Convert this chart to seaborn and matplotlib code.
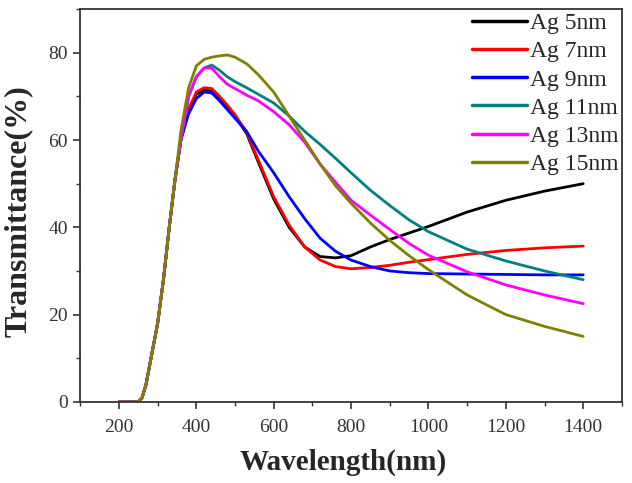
import numpy as np
import pandas as pd
import matplotlib
matplotlib.use("Agg")
import matplotlib.pyplot as plt
import seaborn as sns
from matplotlib.ticker import MultipleLocator

# ---- data ----
wavelength = [200, 250, 260, 270, 285, 300, 315, 330, 345, 360, 380, 400, 420, 440,
              460, 480, 500, 530, 560, 600, 640, 680, 720, 760, 800, 850, 900, 950,
              1000, 1100, 1200, 1300, 1400]
rise = [0, 0, 1, 4, 11, 18, 28, 40, 51, 60]

ag5 = rise + [67, 70.5, 71.5, 71.2, 69.5, 67.5, 65.5, 61.5, 55, 46.5, 40, 35.5, 33.3,
              33, 33.5, 35.5, 37.2, 38.7, 40.2, 43.5, 46.2, 48.3, 50]
ag7 = rise + [67, 71, 72, 71.8, 70, 68, 65.8, 61.8, 55.5, 47, 40.5, 35.5, 32.5,
              31, 30.5, 30.8, 31.3, 32, 32.6, 33.8, 34.7, 35.3, 35.7]
ag9 = rise + [66, 69.5, 71, 70.8, 69, 67, 65, 62, 57.5, 52.5, 47, 42, 37.5,
              34.5, 32.5, 31, 30, 29.6, 29.4, 29.3, 29.2, 29.1, 29.1]
ag11 = rise + [70, 74.5, 76.5, 77.2, 76, 74.5, 73.4, 72, 70.5, 68.5, 65.5, 62, 59,
               55.8, 52.5, 48.5, 45, 41.7, 39, 35, 32.3, 30, 28]
ag13 = rise[:-1] + [60, 70, 74.5, 76.5, 76.5, 74.5, 72.8, 71.8, 70.3, 69, 66.5, 63.5, 59.5, 54.5,
                    50.3, 46.2, 42.8, 39.5, 36.3, 33.6, 29.8, 26.8, 24.5, 22.5]
ag15 = rise[:-1] + [62, 72, 77, 78.5, 79, 79.3, 79.5, 79, 77.5, 75, 71, 65.5, 60, 54.5,
                    49.5, 45.5, 41, 37, 33.5, 30.3, 24.5, 20, 17.3, 15]

labels = ["Ag 5nm", "Ag 7nm", "Ag 9nm", "Ag 11nm", "Ag 13nm", "Ag 15nm"]
series = [ag5, ag7, ag9, ag11, ag13, ag15]
colors = ["#000000", "#FF0000", "#0000FF", "#008080", "#FF00FF", "#808000"]

x_ticks = [200, 400, 600, 800, 1000, 1200, 1400]
y_ticks = [0, 20, 40, 60, 80]

frames = []
for lab, vals in zip(labels, series):
    frames.append(pd.DataFrame({"Wavelength": wavelength, "T": vals, "Sample": lab}))
df = pd.concat(frames, ignore_index=True)

sns.set_style("ticks")
plt.rcParams["font.family"] = ["Liberation Serif", "DejaVu Serif"]

fig = plt.figure(figsize=(6.32, 4.83), dpi=100)
ax = fig.add_axes([0.127, 0.168, 0.857, 0.813])

sns.lineplot(data=df, x="Wavelength", y="T", hue="Sample", palette=colors,
             hue_order=labels, linewidth=2.0, ax=ax, sort=False, estimator=None)

ax.set_xlim(100, 1500)
ax.set_ylim(0, 90)
ax.set_xticks(x_ticks)
ax.set_yticks(y_ticks)
ax.xaxis.set_minor_locator(MultipleLocator(100))
ax.yaxis.set_minor_locator(MultipleLocator(10))
ax.tick_params(which="major", direction="out", length=5, width=1.2, labelsize=14,
               colors="#333333")
ax.tick_params(axis="x", which="major", pad=7)
ax.tick_params(axis="y", which="major", pad=4)
ax.tick_params(which="minor", direction="out", length=3, width=1.0, colors="#333333")
for s in ax.spines.values():
    s.set_visible(True)
    s.set_linewidth(1.3)
    s.set_color("#333333")

ax.set_xlabel("Wavelength(nm)", fontsize=21, fontweight="bold")
ax.set_ylabel("Transmittance(%)", fontsize=23, fontweight="bold")
ax.xaxis.set_label_coords(0.486, -0.118)
ax.yaxis.set_label_coords(-0.088, 0.485)

leg = ax.legend(loc="upper right", frameon=False, fontsize=17, handlelength=2.35,
                handletextpad=0.12, labelspacing=0.28, borderaxespad=0.05,
                borderpad=0.1)
for line in leg.get_lines():
    line.set_linewidth(2.5)

fig.savefig("out.png", dpi=100)
